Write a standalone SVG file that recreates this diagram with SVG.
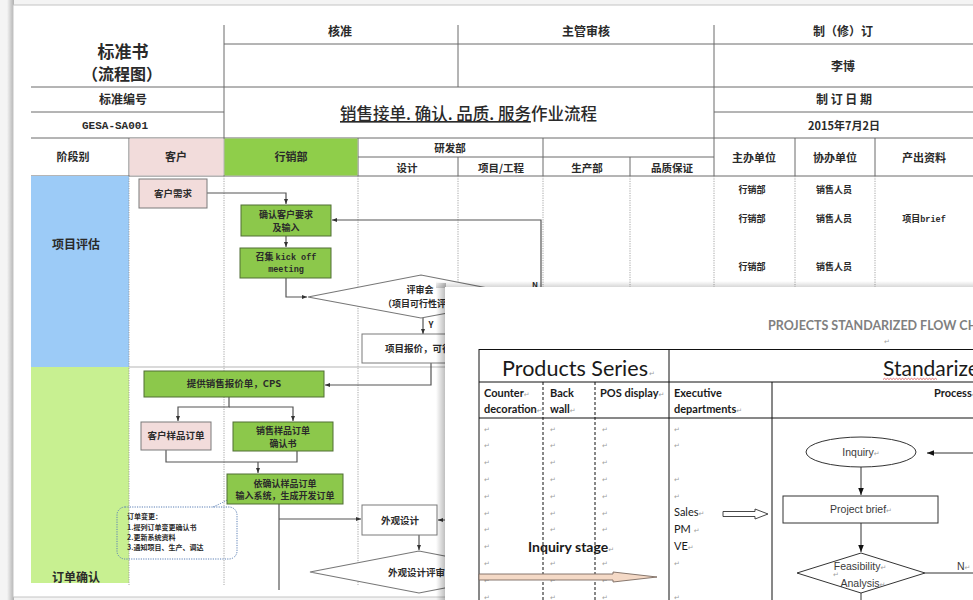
<svg xmlns="http://www.w3.org/2000/svg" width="973" height="600" viewBox="0 0 973 600">
<defs>
<marker id="ah" viewBox="0 0 10 10" refX="10" refY="5" markerWidth="5" markerHeight="5" markerUnits="userSpaceOnUse" orient="auto"><path d="M0,1 L10,5 L0,9 Z" fill="#333"/></marker>
<marker id="ahf" viewBox="0 0 10 10" refX="10" refY="5" markerWidth="7" markerHeight="7" markerUnits="userSpaceOnUse" orient="auto"><path d="M0,1 L10,5 L0,9 Z" fill="#111"/></marker>
<linearGradient id="shL" x1="0" y1="0" x2="1" y2="0"><stop offset="0" stop-color="#000" stop-opacity="0"/><stop offset="1" stop-color="#000" stop-opacity="0.28"/></linearGradient>
<linearGradient id="shT" x1="0" y1="0" x2="0" y2="1"><stop offset="0" stop-color="#000" stop-opacity="0"/><stop offset="1" stop-color="#000" stop-opacity="0.18"/></linearGradient>
<style>
.cj{font-family:"Noto Sans CJK SC","Noto Sans CJK JP",sans-serif;font-weight:700;fill:#2a2a2a;text-anchor:middle}
.st{text-anchor:start}
.mono{font-family:"Liberation Mono","DejaVu Sans Mono","Noto Sans CJK SC",monospace;font-weight:700}
.grid{stroke:#6a6a6a;stroke-width:1;fill:none}
.dot{stroke:#8f8f8f;stroke-width:0.8;stroke-dasharray:1.2 1.2;fill:none}
.con{stroke:#555;stroke-width:1.2;fill:none}
.gbox{fill:#8cc84b;stroke:#506e35;stroke-width:1}
.pbox{fill:#f2dcdb;stroke:#7a7a7a;stroke-width:1}
.wbox{fill:#fff;stroke:#7a7a7a;stroke-width:1}
.fl{stroke:#111;stroke-width:1;fill:none}
.la{font-family:Lato,"Liberation Sans",sans-serif;fill:#1a1a1a}
.lb{font-family:Lato,"Liberation Sans",sans-serif;font-weight:700;fill:#1a1a1a}
.ar{font-family:"Liberation Sans",Arial,sans-serif;font-size:10.5px;fill:#3a3a3a;text-anchor:middle}
.pm{font-family:"DejaVu Sans",sans-serif;font-size:7px;fill:#a0a0a0;font-weight:400}
.fc{stroke:#333;stroke-width:1;fill:none}
</style>
</defs>

<!-- background and back page -->
<rect x="0" y="0" width="973" height="600" fill="#f4f4f4"/>
<rect x="7" y="0" width="7" height="600" fill="url(#shL)"/>
<rect x="13" y="5" width="975" height="592" fill="#fff" stroke="#c4c4c4" stroke-width="1"/>

<g id="back-header">
  <path class="grid" d="M224,25 V176 M458,25 V87 M714,25 V176 M224,44 H973 M31,87 H973 M31,112 H224 M714,112 H973 M31,138 H973 M358,157 H714 M31,176 H973 M129,138 V176 M358,138 V176 M543,138 V176 M630,157 V176 M458,157 V176 M795,138 V176 M875,138 V176"/>
  <rect x="129.5" y="138.5" width="94" height="37" fill="#f2dcdb"/>
  <rect x="224.5" y="138.5" width="133" height="37" fill="#8fce4a"/>
  <text class="cj" x="123" y="58" font-size="17">标准书</text>
  <text class="cj" x="122" y="80" font-size="16">（流程图）</text>
  <text class="cj" x="123" y="104" font-size="12">标准编号</text>
  <text class="mono" x="115" y="129" font-size="11" text-anchor="middle" fill="#2a2a2a">GESA-SA001</text>
  <text class="cj" x="340" y="36" font-size="12">核准</text>
  <text class="cj" x="586" y="36" font-size="12">主管审核</text>
  <text class="cj" x="843" y="36" font-size="12">制（修）订</text>
  <text class="cj" x="843" y="71" font-size="12">李博</text>
  <text class="cj" x="844" y="104" font-size="12">制 订 日 期</text>
  <text class="cj" x="844" y="130" font-size="11">2015年7月2日</text>
  <text class="cj st" x="340" y="120" font-size="16.5" style="font-weight:500"><tspan text-decoration="underline">销售接单. 确认. 品质. 服务</tspan>作业流程</text>
  <text class="cj" x="73" y="161" font-size="11">阶段别</text>
  <text class="cj" x="176" y="161" font-size="11">客户</text>
  <text class="cj" x="291" y="161" font-size="11">行销部</text>
  <text class="cj" x="450" y="152" font-size="10.5">研发部</text>
  <text class="cj" x="407" y="172" font-size="10.5">设计</text>
  <text class="cj" x="501" y="172" font-size="10.5">项目/工程</text>
  <text class="cj" x="587" y="172" font-size="10.5">生产部</text>
  <text class="cj" x="672" y="172" font-size="10.5">品质保证</text>
  <text class="cj" x="754" y="162" font-size="11">主办单位</text>
  <text class="cj" x="835" y="162" font-size="11">协办单位</text>
  <text class="cj" x="924" y="162" font-size="11">产出资料</text>
</g>

<g id="back-lanes">
  <rect x="31" y="176" width="98" height="191" fill="#9ccbf7"/>
  <rect x="31" y="367" width="98" height="216" fill="#c8f091"/>
  <path class="dot" d="M129,176 V585 M224,176 V585 M358,176 V585 M458,176 V585 M543,176 V585 M630,176 V585 M714,176 V585 M795,176 V585 M875,176 V585"/>
  <path d="M129,367 H973" stroke="#b5b5b5" stroke-width="1"/>
  <text class="cj" x="76" y="249" font-size="12">项目评估</text>
  <text class="cj" x="76" y="582" font-size="12">订单确认</text>
  <text class="cj" x="752" y="193" font-size="9">行销部</text>
  <text class="cj" x="834" y="193" font-size="9">销售人员</text>
  <text class="cj" x="752" y="222" font-size="9">行销部</text>
  <text class="cj" x="834" y="222" font-size="9">销售人员</text>
  <text class="cj" x="924" y="222" font-size="9">项目<tspan class="mono" font-size="8.5">brief</tspan></text>
  <text class="cj" x="752" y="270" font-size="9">行销部</text>
  <text class="cj" x="834" y="270" font-size="9">销售人员</text>
</g>

<g id="back-connectors">
  <path class="con" d="M207,193 H286 V204" marker-end="url(#ah)"/>
  <path class="con" d="M286,236 V247" marker-end="url(#ah)"/>
  <path class="con" d="M286,278 V297 H307" marker-end="url(#ah)"/>
  <path class="con" d="M423,318 V334" marker-end="url(#ah)"/>
  <path class="con" d="M534,297 H541 V220 H332" marker-end="url(#ah)"/>
  <path class="con" d="M431,363 V385 H325" marker-end="url(#ah)"/>
  <path class="con" d="M229,397 V407 H178 V421" marker-end="url(#ah)"/>
  <path class="con" d="M229,407 H293 V421" marker-end="url(#ah)"/>
  <path class="con" d="M166,450 V462 H297 V451"/>
  <path class="con" d="M258,462 V473" marker-end="url(#ah)"/>
  <path class="con" d="M279,504 V590"/>
  <path class="con" d="M279,519 H361" marker-end="url(#ah)"/>
  <path class="con" d="M452,520 H438" marker-end="url(#ah)"/>
  <path class="con" d="M419,535 V550" marker-end="url(#ah)"/>
  <path d="M213,507 Q222,503 229,499" stroke="#5b7fb5" stroke-width="1" stroke-dasharray="1.2 1.2" fill="none"/>
  <text class="cj" x="431" y="328" font-size="8.5">Y</text>
  <text class="cj" x="535" y="288" font-size="8">N</text>
</g>

<g id="n-kehu-xuqiu"><rect class="pbox" x="139" y="179" width="68" height="29"/><text class="cj" x="173" y="197" font-size="9.5">客户需求</text></g>
<g id="n-queren"><rect class="gbox" x="241" y="205" width="90" height="31"/><text class="cj" x="286" y="218" font-size="9">确认客户要求</text><text class="cj" x="286" y="231" font-size="9">及输入</text></g>
<g id="n-kickoff"><rect class="gbox" x="240" y="248" width="91" height="30"/><text class="cj" x="286" y="260" font-size="9">召集 <tspan class="mono" font-size="8.5">kick off</tspan></text><text class="mono" x="286" y="272" font-size="8.5" text-anchor="middle" fill="#2a2a2a">meeting</text></g>
<g id="n-pingshen"><polygon points="308,297 421,275 534,297 421,318" fill="#fff" stroke="#777" stroke-width="1.2"/><text class="cj" x="420" y="293" font-size="9">评审会</text><text class="cj st" x="383" y="306.5" font-size="9">（项目可行性评</text></g>
<g id="n-baojia"><rect class="wbox" x="362" y="334" width="140" height="29"/><text class="cj st" x="385" y="352" font-size="9.5">项目报价，可行</text></g>
<g id="n-cps"><rect class="gbox" x="144" y="371" width="180" height="26"/><text class="cj" x="234" y="387" font-size="9.5">提供销售报价单，CPS</text></g>
<g id="n-kehu-dingdan"><rect class="pbox" x="141" y="422" width="70" height="28"/><text class="cj" x="176" y="439" font-size="9.5">客户样品订单</text></g>
<g id="n-queren-shu"><rect class="gbox" x="233" y="422" width="100" height="29"/><text class="cj" x="283" y="434" font-size="9">销售样品订单</text><text class="cj" x="283" y="446.5" font-size="9">确认书</text></g>
<g id="n-kaifa"><rect class="gbox" x="227" y="474" width="116" height="30"/><text class="cj" x="285" y="486.5" font-size="9">依确认样品订单</text><text class="cj" x="285" y="499" font-size="9">输入系统，生成开发订单</text></g>
<g id="n-note"><rect x="117" y="507" width="120" height="52" rx="8" fill="none" stroke="#5b7fb5" stroke-width="1" stroke-dasharray="1.2 1.2"/>
  <text class="cj st" x="127" y="519" font-size="7">订单变更：</text>
  <text class="cj st" x="127" y="530" font-size="7">1.提列订单变更确认书</text>
  <text class="cj st" x="127" y="540" font-size="7">2.更新系统资料</text>
  <text class="cj st" x="127" y="550" font-size="7">3.通知项目、生产、调达</text></g>
<g id="n-waiguan"><rect class="wbox" x="362" y="505" width="75" height="30"/><text class="cj" x="400" y="524" font-size="9.5">外观设计</text></g>
<g id="n-waiguan-pingshen"><polygon points="310,572 419,551 528,572 419,593" fill="#fff" stroke="#777" stroke-width="1.2"/><text class="cj st" x="388" y="576" font-size="9.5">外观设计评审</text></g>

<!-- front page -->
<rect x="436" y="283" width="10" height="317" fill="url(#shL)"/>
<rect x="436" y="281" width="540" height="7" fill="url(#shT)"/>
<rect x="445" y="287" width="540" height="320" fill="#fff"/>

<g id="front-table">
  <path class="fl" d="M479,349.5 H980 M479,349 V600" stroke-width="1.6"/>
  <path class="fl" d="M479,382 H980 M479,418 H980 M669,349 V600 M772,382 V600"/>
  <path class="fl" d="M543,382 V600 M595,382 V600" stroke-dasharray="3 2"/>
  <text class="lb" x="768" y="330" font-size="12.5" style="fill:#808080">PROJECTS STANDARIZED FLOW CHART</text>
  <text class="pm" x="884" y="344">↵</text>
  <text class="la" x="575" y="375.5" font-size="21" text-anchor="middle" textLength="146" lengthAdjust="spacingAndGlyphs">Products Series</text>
  <text class="pm" x="649" y="376">↵</text>
  <text class="la" x="883" y="375.5" font-size="21">Standarized</text>
  <path d="M883,379.5 l1.5,-1.2 l1.5,1.2 l1.5,-1.2 l1.5,1.2 l1.5,-1.2 l1.5,1.2 l1.5,-1.2 l1.5,1.2 l1.5,-1.2 l1.5,1.2 l1.5,-1.2 l1.5,1.2 l1.5,-1.2 l1.5,1.2 l1.5,-1.2 l1.5,1.2 l1.5,-1.2 l1.5,1.2 l1.5,-1.2 l1.5,1.2 l1.5,-1.2 l1.5,1.2 l1.5,-1.2 l1.5,1.2 l1.5,-1.2 l1.5,1.2 l1.5,-1.2 l1.5,1.2 l1.5,-1.2 l1.5,1.2 l1.5,-1.2 l1.5,1.2 l1.5,-1.2 l1.5,1.2 l1.5,-1.2 l1.5,1.2" stroke="#e05050" stroke-width="0.8" fill="none"/>
  <text class="lb" x="484" y="397" font-size="11">Counter<tspan class="pm">↵</tspan></text>
  <text class="lb" x="484" y="413" font-size="11">decoration<tspan class="pm">↵</tspan></text>
  <text class="lb" x="550" y="397" font-size="11">Back</text>
  <text class="lb" x="550" y="413" font-size="11">wall<tspan class="pm">↵</tspan></text>
  <text class="lb" x="600" y="397" font-size="11">POS display<tspan class="pm">↵</tspan></text>
  <text class="lb" x="674" y="397" font-size="11">Executive</text>
  <text class="lb" x="674" y="413" font-size="11">departments<tspan class="pm">↵</tspan></text>
  <text class="lb" x="934" y="397" font-size="11">Process<tspan class="pm">↵</tspan></text>
</g>

<g id="front-marks">
  <text class="pm"><tspan x="484" y="431.5">↵</tspan><tspan x="484" y="448.3">↵</tspan><tspan x="484" y="465.1">↵</tspan><tspan x="484" y="481.9">↵</tspan><tspan x="484" y="498.7">↵</tspan><tspan x="484" y="515.5">↵</tspan><tspan x="484" y="532.3">↵</tspan><tspan x="484" y="549.1">↵</tspan><tspan x="484" y="565.9">↵</tspan><tspan x="484" y="582.7">↵</tspan><tspan x="484" y="599.5">↵</tspan></text>
  <text class="pm"><tspan x="550" y="431.5">↵</tspan><tspan x="550" y="448.3">↵</tspan><tspan x="550" y="465.1">↵</tspan><tspan x="550" y="481.9">↵</tspan><tspan x="550" y="498.7">↵</tspan><tspan x="550" y="515.5">↵</tspan><tspan x="550" y="532.3">↵</tspan><tspan x="550" y="565.9">↵</tspan><tspan x="550" y="582.7">↵</tspan><tspan x="550" y="599.5">↵</tspan></text>
  <text class="pm"><tspan x="602" y="431.5">↵</tspan><tspan x="602" y="448.3">↵</tspan><tspan x="602" y="465.1">↵</tspan><tspan x="602" y="481.9">↵</tspan><tspan x="602" y="498.7">↵</tspan><tspan x="602" y="515.5">↵</tspan><tspan x="602" y="532.3">↵</tspan><tspan x="602" y="565.9">↵</tspan><tspan x="602" y="582.7">↵</tspan><tspan x="602" y="599.5">↵</tspan></text>
  <text class="pm"><tspan x="674" y="431.5">↵</tspan><tspan x="674" y="448.3">↵</tspan><tspan x="674" y="481.9">↵</tspan><tspan x="674" y="498.7">↵</tspan><tspan x="674" y="565.9">↵</tspan><tspan x="674" y="599.5">↵</tspan></text>
  <text class="la" x="674" y="516" font-size="11">Sales<tspan class="pm">↵</tspan></text>
  <text class="la" x="674" y="533" font-size="11">PM <tspan class="pm">↵</tspan></text>
  <text class="la" x="674" y="550" font-size="11">VE<tspan class="pm">↵</tspan></text>
  <text class="lb" x="528" y="552" font-size="14">Inquiry stage<tspan class="pm">↵</tspan></text>
</g>

<g id="front-arrows">
  <polygon points="723,511.5 755,511.5 755,509 768,514 755,519 755,516.5 723,516.5" fill="#fff" stroke="#333" stroke-width="0.9"/>
  <polygon points="479,574 613,574 613,572 657,577 613,582 613,580 479,580" fill="#f4d9c6" stroke="#7a6a60" stroke-width="0.9"/>
</g>

<g id="f-inquiry"><ellipse class="fc" cx="861" cy="452" rx="55" ry="15"/><text class="ar" x="861" y="456">Inquiry<tspan class="pm">↵</tspan></text></g>
<g id="f-brief"><rect class="fc" x="783" y="496" width="155" height="27"/><text class="ar" x="861" y="513">Project brief<tspan class="pm">↵</tspan></text></g>
<g id="f-feasibility"><polygon class="fc" points="797,573 861,553 925,573 861,593"/><text class="ar" x="860" y="570">Feasibility<tspan class="pm">↵</tspan></text><text class="pm" x="833" y="577">↵</text><text class="ar" x="863" y="587">Analysis<tspan class="pm">↵</tspan></text></g>

<g id="front-connectors">
  <path class="fc" d="M861,467 V495" marker-end="url(#ahf)"/>
  <path class="fc" d="M861,523 V552" marker-end="url(#ahf)"/>
  <path class="fc" d="M975,453 H927" marker-end="url(#ahf)"/>
  <path class="fc" d="M925,573 H975"/>
  <path class="fc" d="M861,593 V600"/>
  <text class="ar" x="957" y="570" style="text-anchor:start">N<tspan class="pm">↵</tspan></text>
</g>
</svg>
